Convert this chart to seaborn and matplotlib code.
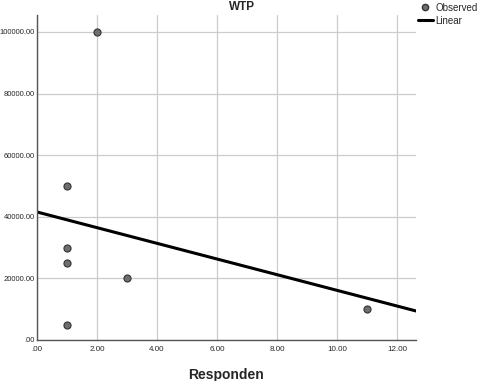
import numpy as np
import pandas as pd
import matplotlib
matplotlib.use("Agg")
import matplotlib.pyplot as plt
import seaborn as sns
from matplotlib.lines import Line2D

# data
responden = [1, 1, 1, 1, 2, 3, 11]
wtp = [50000, 30000, 25000, 5000, 100000, 20000, 10000]
x_ticks = [0, 2, 4, 6, 8, 10, 12]
y_ticks = [0, 20000, 40000, 60000, 80000, 100000]

df = pd.DataFrame({"Responden": responden, "WTP": wtp})

sns.set_style("white")
plt.rcParams["font.family"] = ["Liberation Sans", "DejaVu Sans"]

fig = plt.figure(figsize=(4.8, 3.81), dpi=100)
ax = fig.add_axes([37 / 480, 1 - 340 / 381, (416 - 37) / 480, (340 - 15) / 381])
ax.set_xlim(0, 12.63)
ax.set_ylim(0, 105500)

sns.regplot(data=df, x="Responden", y="WTP", ci=None, truncate=False, ax=ax,
            scatter_kws=dict(s=26, color="#6e6e6e", edgecolor="#333333", linewidths=0.8, alpha=1, zorder=3),
            line_kws=dict(color="black", lw=2.2, zorder=2))

ax.set_xticks(x_ticks)
ax.set_yticks(y_ticks)
ax.set_xticklabels([".00" if v == 0 else f"{v:.2f}" for v in x_ticks], fontsize=5.8)
ax.set_yticklabels([".00" if v == 0 else f"{v:.2f}" for v in y_ticks], fontsize=5.5)
ax.tick_params(axis="y", length=0, pad=1.5)
ax.tick_params(axis="x", length=0, pad=4)
ax.grid(True, color="#cccccc", lw=0.9)
ax.set_axisbelow(True)
for s in ["top", "right"]:
    ax.spines[s].set_visible(False)
for s in ["left", "bottom"]:
    ax.spines[s].set_color("#555555")
    ax.spines[s].set_linewidth(1)

ax.set_xlabel("")
ax.set_ylabel("")
fig.text(226 / 480, 1 - 375 / 381, "Responden", ha="center", va="center", fontsize=10, fontweight="bold")
fig.text(242 / 480, 1 - 7 / 381, "WTP", ha="center", va="center", fontsize=8.5, fontweight="bold")

handles = [Line2D([], [], marker="o", ls="", color="#6e6e6e", markeredgecolor="#333333", markersize=4.5),
           Line2D([], [], color="black", lw=2.2)]
fig.legend(handles, ["Observed", "Linear"], loc="upper left", bbox_to_anchor=(0.862, 1.003),
           frameon=False, fontsize=7, handlelength=1.6, handletextpad=0.25, labelspacing=0.3,
           borderaxespad=0.2, borderpad=0.2)

fig.savefig("out.png", dpi=100)
